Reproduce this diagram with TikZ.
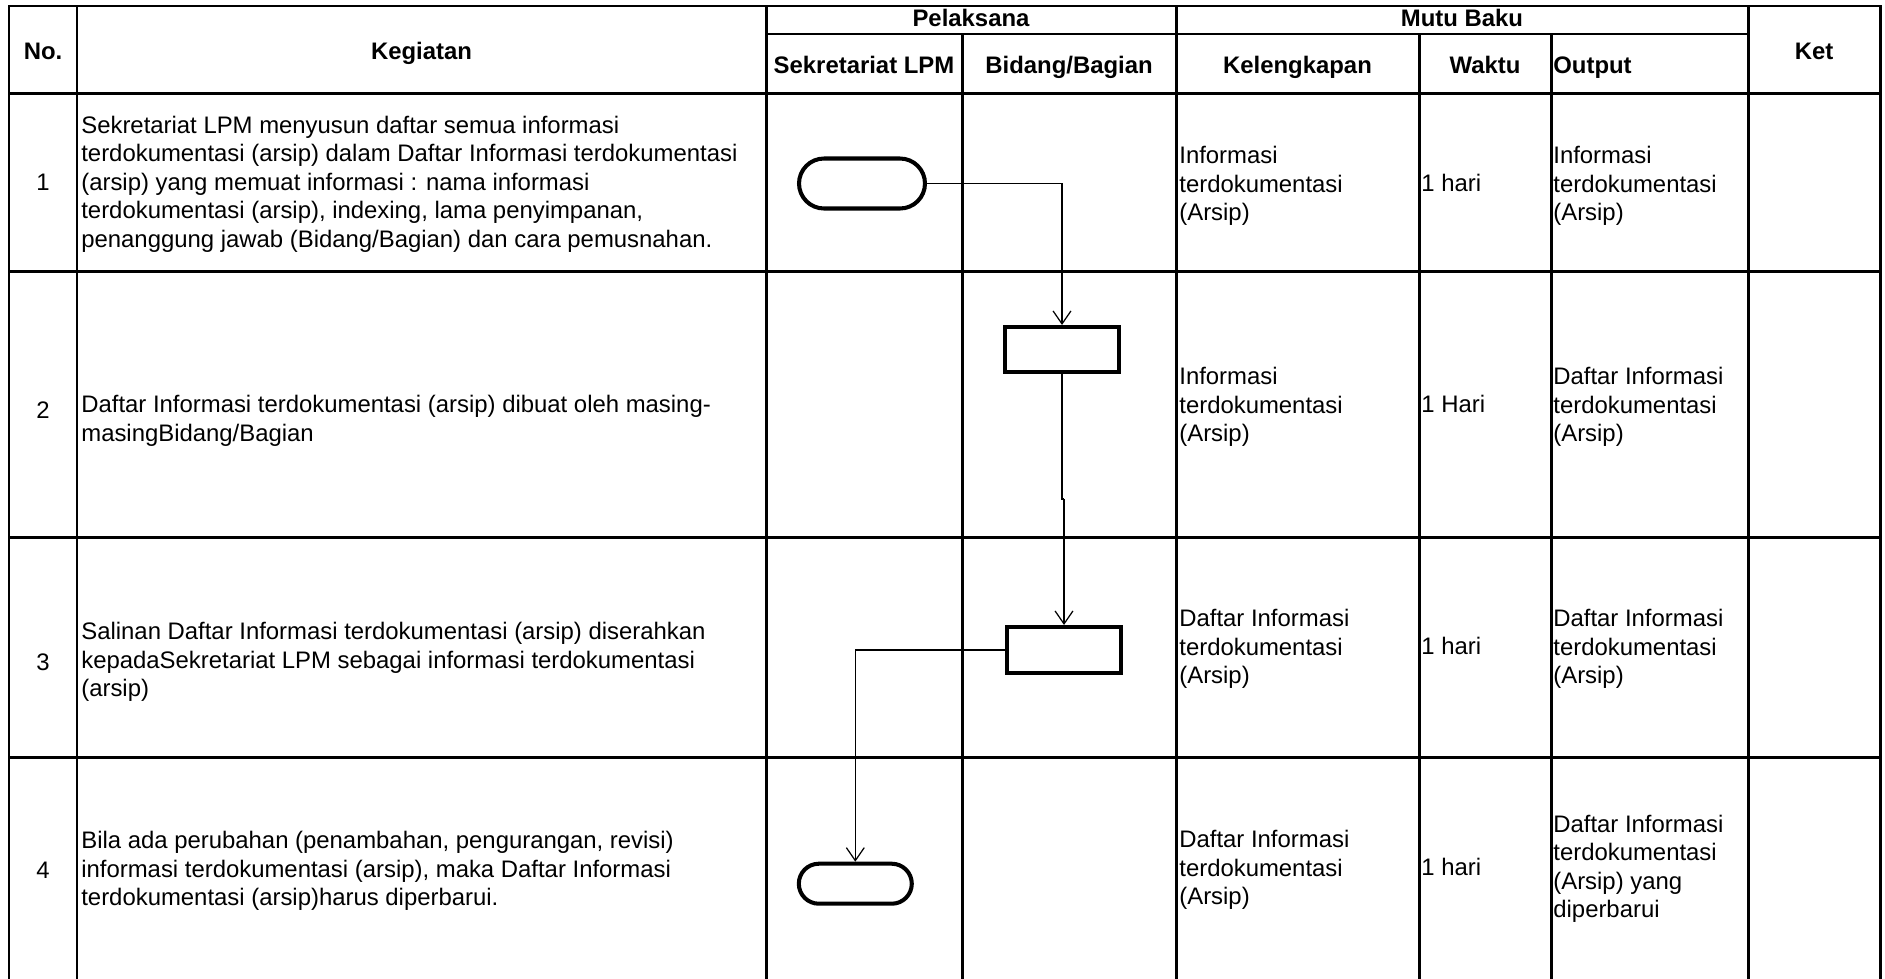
\documentclass[tikz,border=0pt]{standalone}
\usepackage{fontspec}
\setmainfont{Liberation Sans}
\usetikzlibrary{arrows.meta,shapes.misc}
\begin{document}
\begin{tikzpicture}[x=0.02cm,y=-0.02cm,
  gridline/.style={line width=1.7pt, line cap=rect},
  conn/.style={line width=0.7pt, -{Straight Barb[length=7.4pt,width=10.2pt,line width=0.7pt]}},
  plain/.style={line width=0.7pt},
  term/.style={draw, line width=2.3pt, rounded rectangle, inner sep=0pt},
  procbox/.style={draw, line width=2.3pt, rectangle, inner sep=0pt},
  txt/.style={font=\fontsize{13.6}{16.2}\selectfont, inner sep=0pt, align=left, anchor=west, yshift=-0.06cm},
  wtxt/.style={font=\fontsize{13.6}{16.2}\selectfont, inner sep=0pt, anchor=west},
  num/.style={font=\fontsize{13.6}{16.2}\selectfont, inner sep=0pt},
  hdr/.style={font=\fontsize{13.6}{16.2}\selectfont\bfseries, inner sep=0pt, anchor=base}
]
\useasboundingbox (0,0) rectangle (1885,978);
\fill[white] (0,0) rectangle (1885,978);

% grid
\draw[gridline] (9,6) -- (1880,6);
\draw[gridline] (766,34) -- (1748,34);
\foreach \yy in {93,271,537,757} {\draw[gridline] (9,\yy) -- (1880,\yy);}
\foreach \xx in {9,77,766,1176,1748,1880} {\draw[gridline] (\xx,6) -- (\xx,978);}
\foreach \xx in {962,1419,1551} {\draw[gridline] (\xx,34) -- (\xx,978);}

% header
\node[hdr] (hno) at (43,59) {No.};
\node[hdr] (hkeg) at (421.5,59) {Kegiatan};
\node[hdr] (hpel) at (971,26.5) {Pelaksana};
\node[hdr] (hmutu) at (1462,26.5) {Mutu Baku};
\node[hdr] (hsek) at (864,73.5) {Sekretariat LPM};
\node[hdr] (hbid) at (1069,73.5) {Bidang/Bagian};
\node[hdr] (hkel) at (1297.5,73.5) {Kelengkapan};
\node[hdr] (hwak) at (1485,73.5) {Waktu};
\node[hdr, anchor=base west] (hout) at (1553,73.5) {Output};
\node[hdr] (hket) at (1814,59) {Ket};

% numbers
\node[num] (n1) at (43,182) {1};
\node[num] (n2) at (43,410) {2};
\node[num] (n3) at (43,662) {3};
\node[num] (n4) at (43,870) {4};

% kegiatan
\node[txt] (k1) at (81,181) {Sekretariat LPM menyusun daftar semua informasi\\terdokumentasi (arsip) dalam Daftar Informasi terdokumentasi\\(arsip) yang memuat informasi : nama informasi\\terdokumentasi (arsip), indexing, lama penyimpanan,\\penanggung jawab (Bidang/Bagian) dan cara pemusnahan.};
\node[txt] (k2) at (81,418) {Daftar Informasi terdokumentasi (arsip) dibuat oleh masing-\\masingBidang/Bagian};
\node[txt] (k3) at (81,659) {Salinan Daftar Informasi terdokumentasi (arsip) diserahkan\\kepadaSekretariat LPM sebagai informasi terdokumentasi\\(arsip)};
\node[txt] (k4) at (81,868) {Bila ada perubahan (penambahan, pengurangan, revisi)\\informasi terdokumentasi (arsip), maka Daftar Informasi\\terdokumentasi (arsip)harus diperbarui.};

% kelengkapan
\node[txt] (l1) at (1179,183) {Informasi\\terdokumentasi\\(Arsip)};
\node[txt] (l2) at (1179,404) {Informasi\\terdokumentasi\\(Arsip)};
\node[txt] (l3) at (1179,646) {Daftar Informasi\\terdokumentasi\\(Arsip)};
\node[txt] (l4) at (1179,867) {Daftar Informasi\\terdokumentasi\\(Arsip)};

% waktu
\node[wtxt] (w1) at (1421,183) {1 hari};
\node[wtxt] (w2) at (1421,404) {1 Hari};
\node[wtxt] (w3) at (1421,646) {1 hari};
\node[wtxt] (w4) at (1421,867) {1 hari};

% output
\node[txt] (o1) at (1553,183) {Informasi\\terdokumentasi\\(Arsip)};
\node[txt] (o2) at (1553,404) {Daftar Informasi\\terdokumentasi\\(Arsip)};
\node[txt] (o3) at (1553,646) {Daftar Informasi\\terdokumentasi\\(Arsip)};
\node[txt] (o4) at (1553,866) {Daftar Informasi\\terdokumentasi\\(Arsip) yang\\diperbarui};

% flow shapes
\node[term, minimum width=2.52cm, minimum height=1.0cm] (t1) at (862,183.5) {};
\node[procbox, minimum width=2.28cm, minimum height=0.9cm] (b1) at (1062,349.5) {};
\node[procbox, minimum width=2.28cm, minimum height=0.92cm] (b2) at (1064,650) {};
\node[term, minimum width=2.26cm, minimum height=0.8cm] (t2) at (855.3,883.7) {};

% connectors
\draw[conn] (t1.east) -| (b1.north);
\coordinate (j1) at (1062,499);
\coordinate (j2) at (1064,499);
\draw[plain] (b1.south) -- (j1) -- (j2);
\draw[conn] (j2) -- (b2.north);
\draw[conn] (b2.west) -| (t2.north);
\end{tikzpicture}
\end{document}
